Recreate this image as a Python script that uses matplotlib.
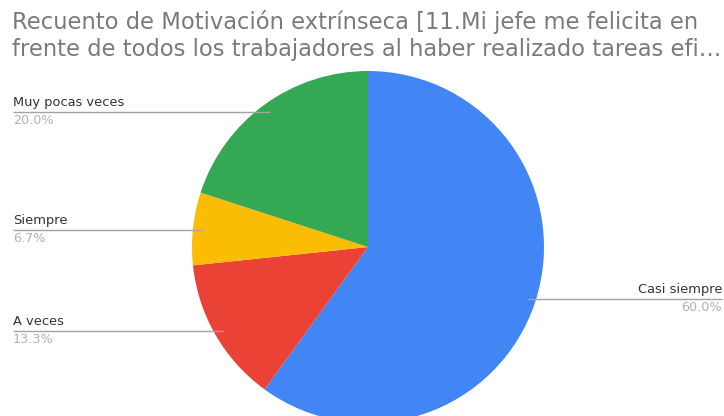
import numpy as np
import matplotlib.pyplot as plt

plt.rcParams['font.family'] = ['DejaVu Sans']

# recuento de respuestas por categoría
categorias = ['Casi siempre', 'A veces', 'Siempre', 'Muy pocas veces']
recuentos = [9, 2, 1, 3]
colores = ['#4285F4', '#EA4335', '#FBBC04', '#34A853']

titulo = ('Recuento de Motivación extrínseca [11.Mi jefe me felicita en\n'
          'frente de todos los trabajadores al haber realizado tareas efi…')

W, H = 724, 416
fig = plt.figure(figsize=(W / 100, H / 100), dpi=100)
ax = fig.add_axes([0, 0, 1, 1])
ax.set_aspect('equal')

cx, cy, r = 368, H - 247, 176
wedges, _ = ax.pie(recuentos, colors=colores, startangle=90, counterclock=False,
                   center=(cx, cy), radius=r, frame=True,
                   wedgeprops=dict(linewidth=0))
ax.set_xlim(0, W)
ax.set_ylim(0, H)
ax.axis('off')

total = sum(recuentos)
for w, nombre, n in zip(wedges, categorias, recuentos):
    ang = np.deg2rad((w.theta1 + w.theta2) / 2)
    px = cx + 0.95 * r * np.cos(ang)
    py = cy + 0.95 * r * np.sin(ang)
    pct = f'{100 * n / total:.1f}%'
    if np.cos(ang) >= 0:
        x_txt, ha = W - 2, 'right'
    else:
        x_txt, ha = 13, 'left'
    ax.plot([px, x_txt], [py, py], color='#a3a3a3', lw=1, solid_capstyle='butt')
    ax.text(x_txt, py + 3, nombre, ha=ha, va='bottom', fontsize=9.4, color='#333333')
    ax.text(x_txt, py - 2, pct, ha=ha, va='top', fontsize=9.2, color='#b0b0b0')

fig.text(12 / W, 1 - 10 / H, titulo, ha='left', va='top', fontsize=16.3,
         color='#7a7a7a', linespacing=1.2)

fig.savefig('out.png', dpi=100, facecolor='white')
